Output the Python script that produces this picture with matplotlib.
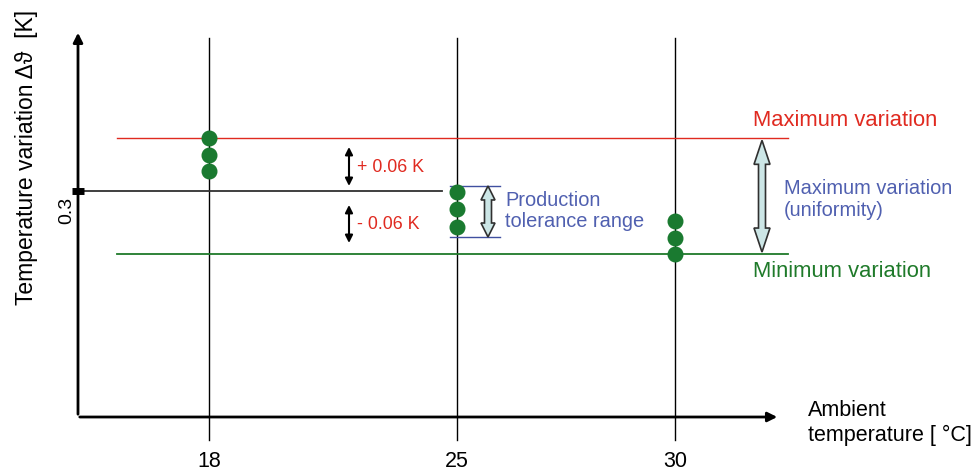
import matplotlib.pyplot as plt
from matplotlib.patches import Polygon

plt.rcParams['font.family'] = ['Liberation Sans', 'DejaVu Sans']

# data (schematic, values in K)
temps = ['18', '25', '30']
dots_18 = [0.381, 0.356, 0.331]
dots_25 = [0.298, 0.272, 0.245]
dots_30 = [0.254, 0.228, 0.203]
max_var = 0.381
min_var = 0.203
nominal = 0.3
tol_hi = 0.3077
tol_lo = 0.2292
plus_arrow = [0.3677, 0.3077]
minus_arrow = [0.2785, 0.2200]

# layout: x runs in pixels, y in K (1 px = 1/650 K)
tick_x = [209, 457, 675]
px = 1 / 650.0
ylo, yhi = -0.1323, 0.5938
y_axis = -0.0477

red = '#e02a20'
green = '#1f7a2a'
blue = '#5060b0'

fig = plt.figure(figsize=(9.8, 4.72), dpi=100)
ax = fig.add_axes([0, 0, 1, 1])
ax.set_xlim(0, 980)
ax.set_ylim(ylo, yhi)
ax.axis('off')


def double_arrow(x, y0, y1, shaft, head_w, head_len, fc):
    # polygon for a hollow double headed arrow, widths in px
    hl = head_len * px
    pts = [(x, y0), (x + head_w / 2, y0 + hl), (x + shaft / 2, y0 + hl),
           (x + shaft / 2, y1 - hl), (x + head_w / 2, y1 - hl), (x, y1),
           (x - head_w / 2, y1 - hl), (x - shaft / 2, y1 - hl),
           (x - shaft / 2, y0 + hl), (x - head_w / 2, y0 + hl)]
    ax.add_patch(Polygon(pts, closed=True, fc=fc, ec='#303030', lw=1.2, zorder=4))


# axes with arrows
ax.annotate('', xy=(78, 0.5477), xytext=(78, y_axis),
            arrowprops=dict(arrowstyle='-|>', color='black', lw=2, mutation_scale=14))
ax.annotate('', xy=(780, y_axis), xytext=(77, y_axis),
            arrowprops=dict(arrowstyle='-|>', color='black', lw=2, mutation_scale=14))

# vertical lines per temperature
for x, t in zip(tick_x, temps):
    ax.plot([x, x], [0.5354, -0.083], color='black', lw=1)
    ax.text(x, -0.1169, t, ha='center', va='center', fontsize=15.5)

# horizontal reference lines
ax.plot([117, 788], [max_var, max_var], color=red, lw=1)
ax.plot([117, 788], [min_var, min_var], color=green, lw=1.3)
ax.plot([78, 442], [nominal, nominal], color='#303030', lw=1.3)
ax.plot([72, 84], [nominal, nominal], color='black', lw=5, solid_capstyle='butt')
ax.plot([450, 500], [tol_hi, tol_hi], color='#4050a0', lw=1)
ax.plot([450, 500], [tol_lo, tol_lo], color='#4050a0', lw=1)

# measured points
for x, vals in zip(tick_x, [dots_18, dots_25, dots_30]):
    ax.plot([x] * len(vals), vals, 'o', color='#1a7a30', ms=10.5, zorder=5)

# +/- tolerance arrows
for ys in [plus_arrow, minus_arrow]:
    ax.annotate('', xy=(349, ys[0]), xytext=(349, ys[1]),
                arrowprops=dict(arrowstyle='<|-|>', color='black', lw=1.5,
                                mutation_scale=11, shrinkA=0, shrinkB=0))
ax.text(357, 0.3354, '+ 0.06 K', color=red, fontsize=12.9, va='center')
ax.text(357, 0.2477, '- 0.06 K', color=red, fontsize=12.9, va='center')

double_arrow(488, tol_lo, tol_hi, 7, 14, 14, '#cce6e6')
ax.text(505, 0.2692, 'Production\ntolerance range', color=blue, fontsize=14.4,
        va='center', linespacing=1.15)

double_arrow(762, min_var + 2 * px, max_var - 2 * px, 7, 16, 24, '#cce6e6')
ax.text(784, 0.2869, 'Maximum variation\n(uniformity)', color=blue, fontsize=14.4,
        va='center', linespacing=1.15)
ax.text(753, 0.4077, 'Maximum variation', color=red, fontsize=15.8, va='center')
ax.text(753, 0.1754, 'Minimum variation', color=green, fontsize=15.8, va='center')

# axis labels
ax.text(808, -0.0569, 'Ambient\ntemperature [ °C]', fontsize=15.5, va='center',
        linespacing=1.2)
ax.text(67, 0.2708, '0.3', rotation=90, fontsize=14, ha='center', va='center')
ax.text(27, 0.3523, 'Temperature variation Δϑ  [K]', rotation=90, fontsize=16.5,
        ha='center', va='center')

fig.savefig('out.png', dpi=100)
